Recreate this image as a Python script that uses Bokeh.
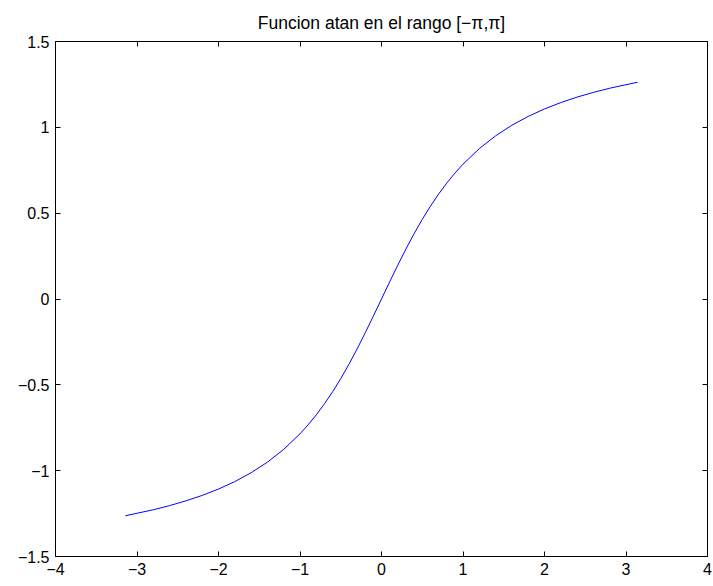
from bokeh.plotting import figure
from bokeh.models import LinearAxis, FixedTicker, Range1d
from bokeh.embed import file_html
from bokeh.resources import INLINE

x_vals = [-3.1416, -2.8, -2.6, -2.4, -2.2, -2.0, -1.8, -1.6, -1.4, -1.2, -1.0,
          -0.9, -0.8, -0.7, -0.6, -0.5, -0.4, -0.3, -0.2, -0.1, 0.0,
          0.1, 0.2, 0.3, 0.4, 0.5, 0.6, 0.7, 0.8, 0.9, 1.0,
          1.2, 1.4, 1.6, 1.8, 2.0, 2.2, 2.4, 2.6, 2.8, 3.1416]
y_vals = [-1.2626, -1.2278, -1.2036, -1.1760, -1.1442, -1.1071, -1.0637, -1.0122, -0.9505, -0.8761, -0.7854,
          -0.7328, -0.6747, -0.6107, -0.5404, -0.4636, -0.3805, -0.2915, -0.1974, -0.0997, 0.0,
          0.0997, 0.1974, 0.2915, 0.3805, 0.4636, 0.5404, 0.6107, 0.6747, 0.7328, 0.7854,
          0.8761, 0.9505, 1.0122, 1.0637, 1.1071, 1.1442, 1.1760, 1.2036, 1.2278, 1.2626]

x_ticks = [-4, -3, -2, -1, 0, 1, 2, 3, 4]
y_ticks = [-1.5, -1, -0.5, 0, 0.5, 1, 1.5]
title_text = "Funcion atan en el rango [\u2212\u03c0,\u03c0]"

FONT = "Liberation Sans"
FS = "16px"

def fmt(v):
    s = ("%g" % v)
    return s.replace("-", "\u2212")

p = figure(width=713, height=586, output_backend="svg", toolbar_location=None,
           x_range=Range1d(-4, 4), y_range=Range1d(-1.5, 1.5),
           x_axis_location=None, y_axis_location=None,
           min_border_left=55, min_border_right=6, min_border_top=41, min_border_bottom=30)
p.grid.visible = False
p.outline_line_color = "black"
p.outline_line_width = 1
p.background_fill_color = "white"
p.border_fill_color = "white"

p.title.text = title_text
p.title.align = "center"
p.title.text_font = FONT
p.title.text_font_size = "17.5px"
p.title.text_font_style = "normal"
p.title.text_color = "black"
p.title.standoff = 17

def make_axis(ticks, show_labels):
    ax = LinearAxis(ticker=FixedTicker(ticks=ticks))
    ax.major_tick_in = 5
    ax.major_tick_out = 0
    ax.minor_tick_in = 0
    ax.minor_tick_out = 0
    ax.axis_line_color = "black"
    ax.major_tick_line_color = "black"
    ax.major_label_text_font = FONT
    ax.major_label_text_font_size = FS
    ax.major_label_text_color = "black"
    ax.major_label_standoff = 6
    if show_labels:
        ax.major_label_overrides = {t: fmt(t) for t in ticks}
    else:
        ax.major_label_overrides = {t: "" for t in ticks}
        ax.major_label_standoff = 0
    return ax

p.add_layout(make_axis(x_ticks, True), "below")
p.add_layout(make_axis(x_ticks, False), "above")
p.add_layout(make_axis(y_ticks, True), "left")
p.add_layout(make_axis(y_ticks, False), "right")

p.line(x_vals, y_vals, line_color="#0000ff", line_width=1)

open("out.html", "w").write(file_html(p, INLINE))
